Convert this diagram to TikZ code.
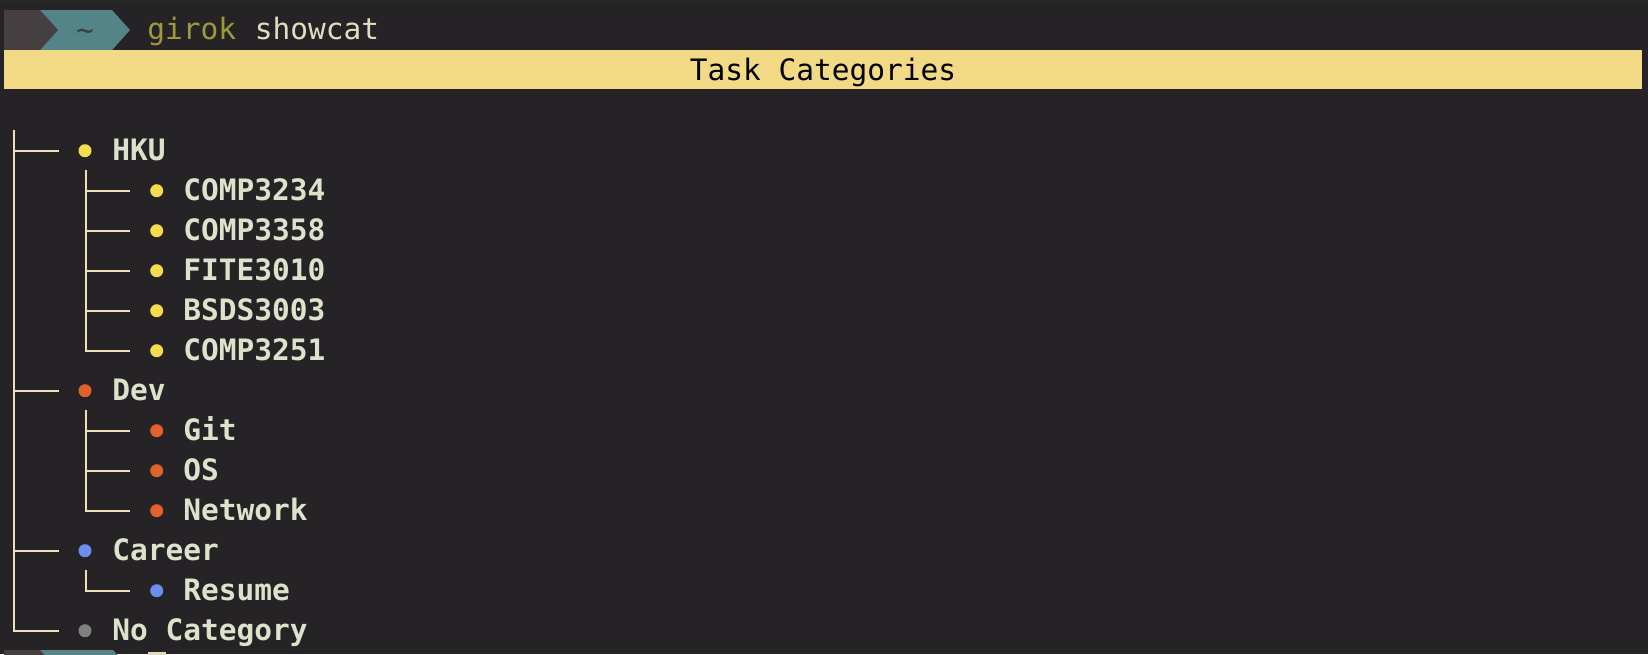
\documentclass[tikz,border=0pt]{standalone}
\usepackage{fontspec}
\newfontfamily\termfont{DejaVu Sans Mono}
\definecolor{termbg}{HTML}{252325}
\definecolor{topbar}{HTML}{262626}
\definecolor{promptdark}{HTML}{463F42}
\definecolor{promptteal}{HTML}{548488}
\definecolor{tildecol}{HTML}{3A3D3F}
\definecolor{cmdcol}{HTML}{9E9A3B}
\definecolor{argcol}{HTML}{E3DCBF}
\definecolor{headbar}{HTML}{F2D985}
\definecolor{linecol}{HTML}{EFE0BA}
\definecolor{itemcol}{HTML}{DDE2CB}
\definecolor{hkucol}{HTML}{F4DC4C}
\definecolor{devcol}{HTML}{E0622A}
\definecolor{careercol}{HTML}{6B8EF0}
\definecolor{nonecol}{HTML}{808080}
\tikzset{
  term/.style={font=\termfont\fontsize{14.75pt}{17pt}\selectfont},
  cat/.style={term, anchor=base west, inner sep=0pt, text=itemcol, font=\termfont\fontsize{14.75pt}{17pt}\selectfont\bfseries},
  dot/.style={circle, fill=#1, minimum size=6.5pt, inner sep=0pt},
  branch/.style={draw=linecol, line width=1pt},
  twig/.style={branch, shorten >=9.75pt},
}
\begin{document}
\begin{tikzpicture}[x=0.5pt,y=-0.5pt]
       \useasboundingbox (0,0) rectangle (1648,654);
       \clip (0,0) rectangle (1648,654);
       \fill[termbg] (0,0) rectangle (1648,654);
       \fill[topbar] (0,0) rectangle (1648,3.3);
       \fill[black!85] (0,3.3) rectangle (1648,4.6);
       \fill[promptteal] (40,10) -- (112,10) -- (130,30) -- (112,50) -- (40,50) -- cycle;
       \fill[promptdark] (4,10) -- (40,10) -- (58,30) -- (40,50) -- (4,50) -- cycle;
       \node[term, anchor=base, inner sep=0pt, text=tildecol] (tilde) at (85,40) {\textasciitilde};
       \node[term, anchor=base west, inner sep=0pt, text=cmdcol] (cmd) at (147,39.5) {girok};
       \node[term, anchor=base west, inner sep=0pt, text=argcol] (arg) at (cmd.base east) {\ showcat};
       \fill[headbar] (4,50) rectangle (1642,89.3);
       \node[term, anchor=base, inner sep=0pt, text=black] (title) at (823,80) {Task Categories};
       \coordinate (root) at (14,130);
       \node[dot=hkucol] (hku) at (85,150.7) {};
       \node[cat] (hkutxt) at (112,160.7) {HKU};
       \coordinate (hkusub) at (86,170);
       \node[dot=hkucol] (comp3234) at (156.7,190.7) {};
       \node[cat] (comp3234txt) at (183,200.7) {COMP3234};
       \node[dot=hkucol] (comp3358) at (156.7,230.7) {};
       \node[cat] (comp3358txt) at (183,240.7) {COMP3358};
       \node[dot=hkucol] (fite3010) at (156.7,270.7) {};
       \node[cat] (fite3010txt) at (183,280.7) {FITE3010};
       \node[dot=hkucol] (bsds3003) at (156.7,310.7) {};
       \node[cat] (bsds3003txt) at (183,320.7) {BSDS3003};
       \node[dot=hkucol] (comp3251) at (156.7,350.7) {};
       \node[cat] (comp3251txt) at (183,360.7) {COMP3251};
       \node[dot=devcol] (dev) at (85,390.7) {};
       \node[cat] (devtxt) at (112,400.7) {Dev};
       \coordinate (devsub) at (86,410);
       \node[dot=devcol] (git) at (156.7,430.7) {};
       \node[cat] (gittxt) at (183,440.7) {Git};
       \node[dot=devcol] (os) at (156.7,470.7) {};
       \node[cat] (ostxt) at (183,480.7) {OS};
       \node[dot=devcol] (network) at (156.7,510.7) {};
       \node[cat] (networktxt) at (183,520.7) {Network};
       \node[dot=careercol] (career) at (85,550.7) {};
       \node[cat] (careertxt) at (112,560.7) {Career};
       \coordinate (careersub) at (86,570);
       \node[dot=careercol] (resume) at (156.7,590.7) {};
       \node[cat] (resumetxt) at (183,600.7) {Resume};
       \node[dot=nonecol] (nocat) at (85,630.7) {};
       \node[cat] (nocattxt) at (112,640.7) {No Category};
       \draw[twig] (root) |- (nocat.west);
       \draw[twig] (root |- hku) -- (hku.west);
       \draw[twig] (root |- dev) -- (dev.west);
       \draw[twig] (root |- career) -- (career.west);
       \draw[twig] (hkusub) |- (comp3251.west);
       \draw[twig] (hkusub |- comp3234) -- (comp3234.west);
       \draw[twig] (hkusub |- comp3358) -- (comp3358.west);
       \draw[twig] (hkusub |- fite3010) -- (fite3010.west);
       \draw[twig] (hkusub |- bsds3003) -- (bsds3003.west);
       \draw[twig] (devsub) |- (network.west);
       \draw[twig] (devsub |- git) -- (git.west);
       \draw[twig] (devsub |- os) -- (os.west);
       \draw[twig] (careersub) |- (resume.west);
       \fill[promptteal] (40,650) -- (113,650) -- (131,670) -- (113,690) -- (40,690) -- cycle;
       \fill[promptdark] (4,650) -- (40,650) -- (58,670) -- (40,690) -- (4,690) -- cycle;
       \fill[argcol] (148,652) rectangle (166,660);
    \end{tikzpicture}
\end{document}
